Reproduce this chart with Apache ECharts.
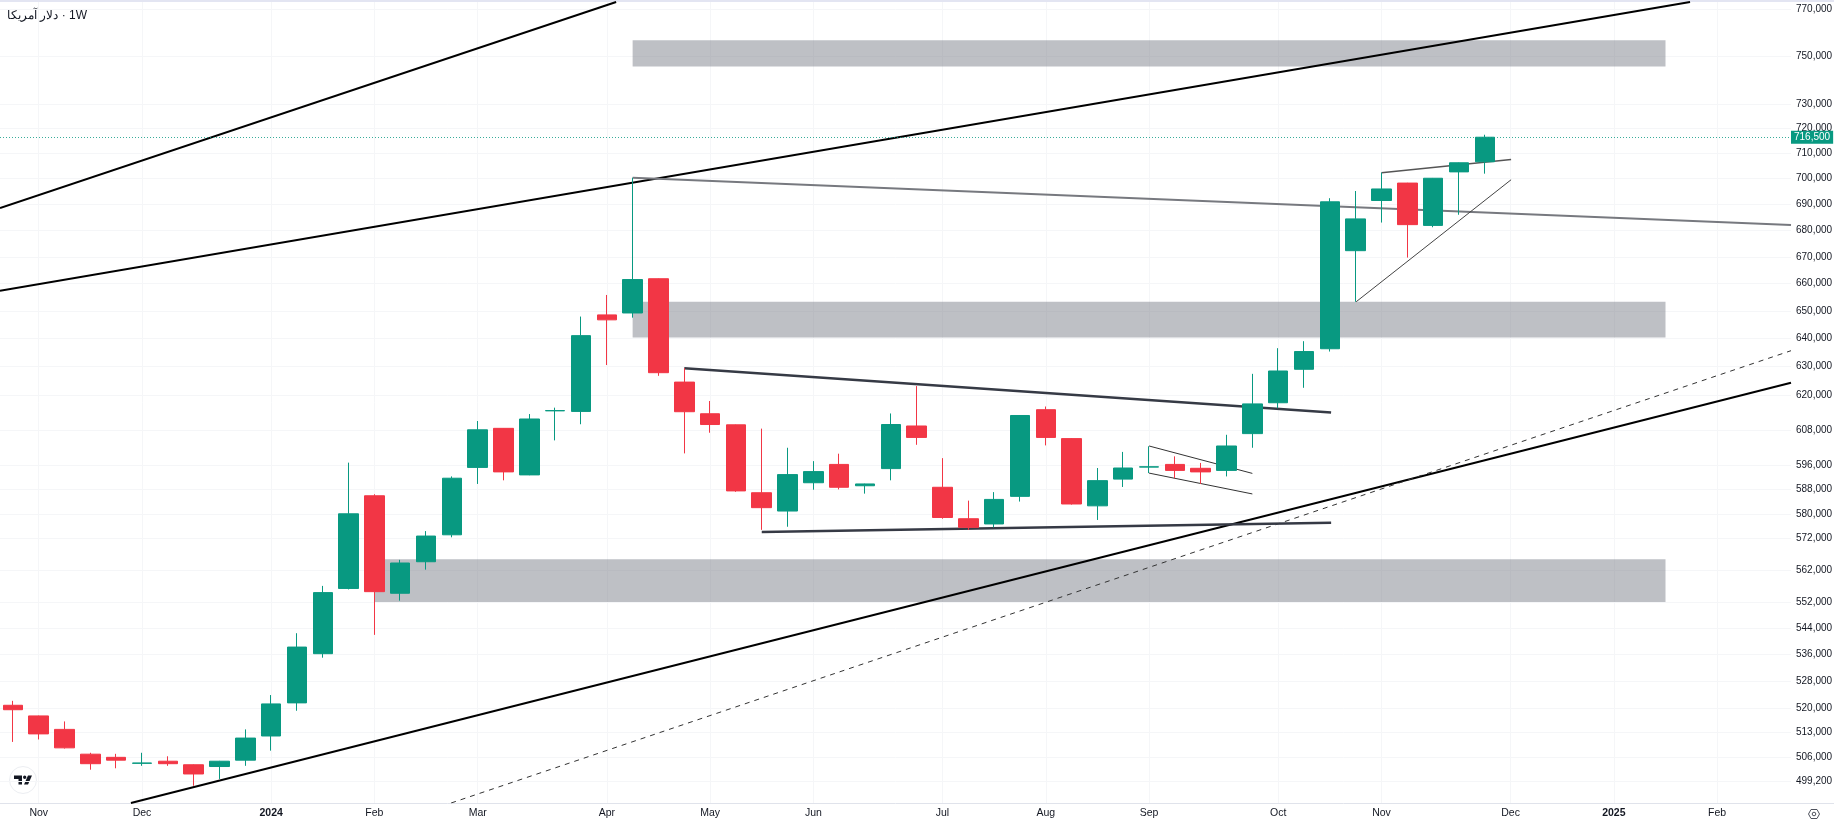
<!DOCTYPE html>
<html>
<head>
<meta charset="utf-8">
<title>دلار آمریکا · 1W</title>
<style>
    html, body { margin: 0; padding: 0; background: #fff; }
    #container { width: 1834px; height: 825px; }
</style>
</head>
<body>
<div id="container"></div>
<script src="https://cdn.jsdelivr.net/npm/echarts@6/dist/echarts.min.js"></script>
<script>
// weekly candles, first one is the week of 23 Oct 2023
var opens = [520900,517800,513900,506800,505900,504200,504800,503800,503300,505100,
    512000,521600,536200,556200,585900,554700,564600,573200,595300,608500,
    592800,614500,614300,648500,649200,661800,624500,613500,609700,586900,
    580900,590200,596300,589200,594900,609300,588700,578400,576700,585700,
    614900,605000,582600,591400,595400,596300,595000,594300,606700,617300,
    629000,636300,672300,691500,698300,681900,702700,706700];
var closes = [519600,512600,508600,504100,505100,504300,504100,501200,504800,511400,
    521300,538200,554900,580000,555200,564200,572800,591700,608000,593800,
    611700,614600,641000,646700,661500,627800,614200,609800,587500,582000,
    592900,593900,588700,589800,609800,605400,578800,575600,584700,612900,
    605400,583200,590900,595100,595500,594300,593800,602500,616900,628400,
    635300,691000,684400,696000,682200,700200,706300,716500];
var lows = [510300,511000,508400,502400,502800,503500,503500,497900,499800,503500,
    507800,519300,535000,555900,541900,552400,562100,572400,589800,591000,
    592700,604400,609900,630500,647500,626700,600000,607000,587200,574800,
    575800,587900,588000,586600,591000,602900,578400,574800,575600,584000,
    602700,583000,578000,588800,593400,591700,589800,592300,601900,615400,
    622500,635300,653300,683000,669700,681200,686000,702000];
var highs = [522200,517900,516200,507200,506900,507200,506200,503900,504900,513900,
    523900,542400,557000,596900,586400,565200,574400,592300,611000,608600,
    613400,615600,647900,655800,700400,661900,629400,617900,609800,608400,
    601900,597400,599900,589900,613600,623100,598400,584300,587100,613000,
    616000,605100,595100,600500,602400,599000,596800,606300,627400,636500,
    639000,692400,695200,702400,698400,700300,706400,717500];
var lastPrice = 716500;

// x axis: week index of each label
var monthWeeks = [1,5,10,14,18,23,27,31,36,40,44,49,53,58,62,66];
var monthLabels = ['Nov','Dec','2024','Feb','Mar','Apr','May','Jun','Jul','Aug','Sep','Oct','Nov','Dec','2025','Feb'];
var priceTicks = [770000,750000,730000,720000,710000,700000,690000,680000,670000,660000,650000,640000,630000,620000,
    608000,596000,588000,580000,572000,562000,552000,544000,536000,528000,520000,513000,506000,499200];

// drawings: [week, price]
var channelTop = [[-0.5,688600],[23.36,773000]];
var channelMid = [[-0.5,657300],[64.95,773000]];
var channelLow = [[4.57,493100],[68.86,624300]];
var channelDash = [[16.97,493100],[68.86,635600]];
var resistance = [[24,700400],[68.86,682100]];
var rangeTop = [[26,629400],[51.05,613900]];
var rangeBottom = [[29,574100],[51.05,577100]];
var flagTop = [[44,602500],[48,593300]];
var flagBottom = [[44,593400],[48,586500]];
var wedgeTop = [[53,702400],[58.02,707600]];
var wedgeBottom = [[52.02,653300],[58.02,699600]];

// supply / demand zones: [from week, to week, bottom, top]
var zones = [[24,64,745500,756600],[24,64,640300,653300],[14,64,552000,565400]];

var candleData = opens.map(function (o, i) {
    return [i, o, closes[i], lows[i], highs[i]];
});

function trend(points, color, width, type) {
    return {
        type: 'line',
        data: points,
        showSymbol: false,
        silent: true,
        z: 2,
        lineStyle: { color: color, width: width, type: type || 'solid' }
    };
}

var FONT = '"Liberation Sans", sans-serif';
var UP = '#089981', DOWN = '#f23645';

var myChart = echarts.init(document.getElementById('container'));
var option = {
    animation: false,
    backgroundColor: '#ffffff',
    title: {
        text: 'دلار آمریکا · \u200E1W',
        left: 2,
        top: 5,
        textStyle: { color: '#131722', fontSize: 12, fontWeight: 'normal', fontFamily: 'sans-serif' }
    },
    grid: { left: 0, right: 43, top: 2, bottom: 22, outerBoundsMode: 'none' },
    xAxis: {
        type: 'value',
        min: -0.5,
        max: 68.86,
        axisLine: { show: true, lineStyle: { color: '#e0e3eb' } },
        axisTick: { show: false, customValues: monthWeeks },
        splitLine: { show: true, lineStyle: { color: '#f5f6f8' } },
        axisLabel: {
            customValues: monthWeeks,
            margin: 5,
            color: '#131722',
            fontSize: 10.5,
            fontFamily: FONT,
            formatter: function (v) {
                var s = monthLabels[monthWeeks.indexOf(v)];
                return s.length === 4 ? '{b|' + s + '}' : s;
            },
            rich: { b: { fontWeight: 'bold', fontSize: 10.5, fontFamily: FONT, color: '#131722' } }
        }
    },
    yAxis: {
        type: 'log',
        position: 'right',
        min: 493100,
        max: 773000,
        axisLine: { show: false },
        axisTick: { show: false, customValues: priceTicks },
        splitLine: { show: true, lineStyle: { color: '#f5f6f8' } },
        axisLabel: {
            customValues: priceTicks,
            margin: 5,
            color: '#131722',
            fontSize: 10,
            fontFamily: FONT,
            formatter: function (v) { return Math.round(v).toLocaleString('en-US'); }
        }
    },
    series: [
        {
            type: 'line',
            data: [],
            silent: true,
            z: 1,
            markArea: {
                silent: true,
                itemStyle: { color: 'rgba(120,123,134,0.48)' },
                data: zones.map(function (r) {
                    return [{ coord: [r[0], r[3]] }, { coord: [r[1], r[2]] }];
                })
            }
        },
        trend(channelTop, '#000000', 2),
        trend(channelMid, '#000000', 2),
        trend(channelLow, '#000000', 2),
        trend(channelDash, '#333333', 1, [5, 5]),
        trend(resistance, '#77797f', 2),
        trend(rangeTop, '#363a45', 2.5),
        trend(rangeBottom, '#363a45', 2.5),
        trend(flagTop, '#333333', 1),
        trend(flagBottom, '#333333', 1),
        trend(wedgeTop, '#555555', 1.5),
        trend(wedgeBottom, '#444444', 1),
        {
            type: 'candlestick',
            data: candleData,
            encode: { x: 0, y: [1, 2, 3, 4] },
            barWidth: 20,
            z: 3,
            silent: true,
            itemStyle: {
                color: UP,
                color0: DOWN,
                borderColor: UP,
                borderColor0: DOWN,
                borderWidth: 1
            },
            markLine: {
                silent: true,
                symbol: 'none',
                lineStyle: { color: 'rgba(8,153,129,0.8)', width: 1, type: [1, 2], opacity: 1 },
                label: {
                    position: 'end',
                    distance: 0,
                    color: '#ffffff',
                    backgroundColor: UP,
                    padding: [2, 3, 1, 3],
                    fontSize: 10,
                    fontFamily: FONT,
                    formatter: function (p) { return p.value.toLocaleString('en-US'); }
                },
                data: [{ yAxis: lastPrice }]
            }
        }
    ],
    graphic: [
        { type: 'rect', silent: true, shape: { x: 0, y: 0, width: 1834, height: 2 }, style: { fill: '#e3e5f2' } },
        { type: 'line', silent: true, shape: { x1: 1791, y1: 803.5, x2: 1834, y2: 803.5 }, style: { stroke: '#e0e3eb' } },
        // tv logo
        { type: 'circle', silent: true, shape: { cx: 23, cy: 780, r: 13.5 }, style: { fill: '#fff', stroke: '#eceef2' } },
        { type: 'polygon', silent: true, shape: { points: [[14,775.5],[22,775.5],[22,784.5],[18.5,784.5],[18.5,779],[14,779]] }, style: { fill: '#131722' } },
        { type: 'circle', silent: true, shape: { cx: 24.7, cy: 777.2, r: 1.7 }, style: { fill: '#131722' } },
        { type: 'polygon', silent: true, shape: { points: [[28,775.5],[32,775.5],[28,784.5],[24,784.5]] }, style: { fill: '#131722' } },
        // settings icon
        { type: 'polygon', silent: true, shape: { points: [[1808.5,814],[1811,809.5],[1817,809.5],[1819.5,814],[1817,818.5],[1811,818.5]] }, style: { fill: 'none', stroke: '#50535e' } },
        { type: 'circle', silent: true, shape: { cx: 1814, cy: 814, r: 1.8 }, style: { fill: 'none', stroke: '#50535e' } }
    ]
};
myChart.setOption(option);
</script>
</body>
</html>
